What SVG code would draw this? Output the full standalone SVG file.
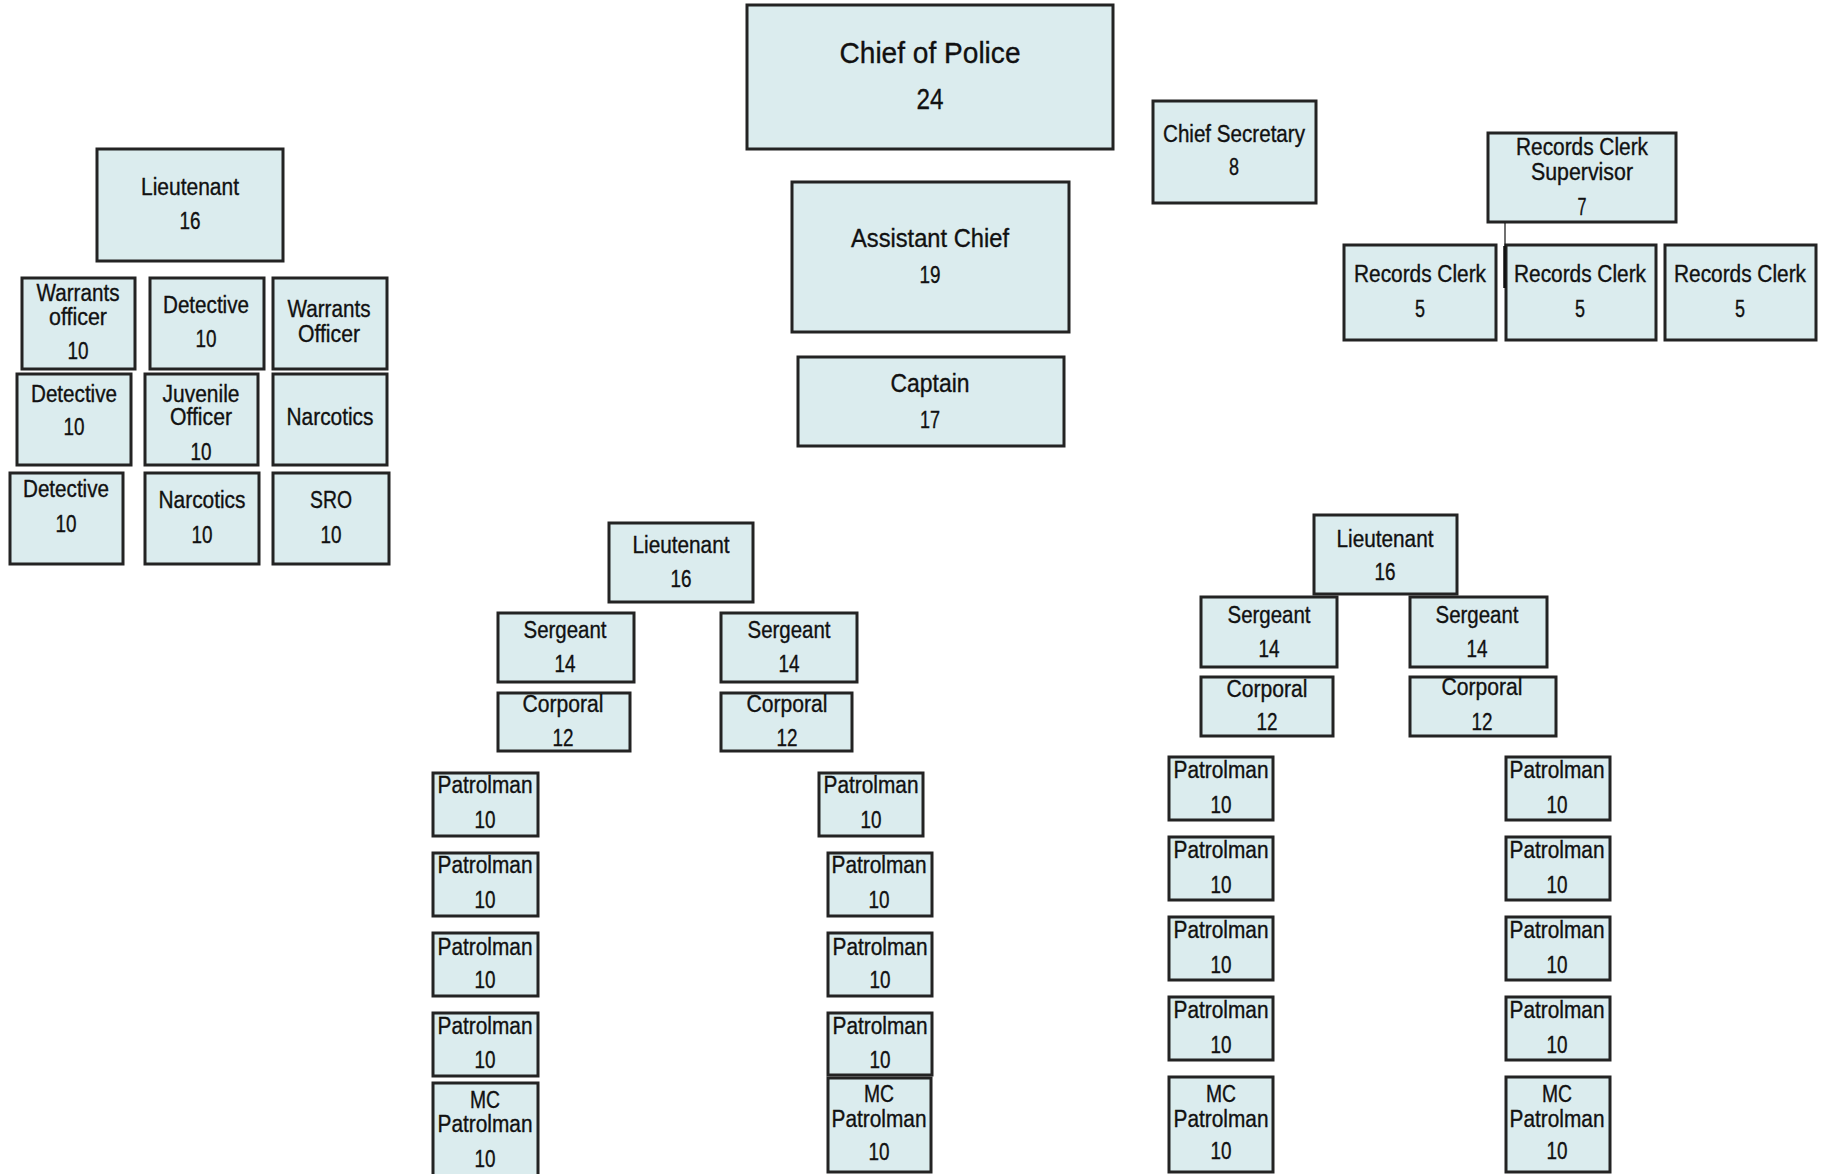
<svg xmlns="http://www.w3.org/2000/svg" width="1824" height="1174" viewBox="0 0 1824 1174">
  <style>
    .box { fill: #dbecee; stroke: #232323; stroke-width: 3; }
    text { font-family: "Liberation Sans", Arial, sans-serif; fill: #111; stroke: #111; stroke-width: 0.35; text-anchor: middle; }
    .f22 { font-size: 23.5px; }
    .f23 { font-size: 23px; }
    .f25 { font-size: 25.5px; }
    .f30 { font-size: 30px; }
    .link { stroke: #111; fill: none; }
  </style>
  <rect width="1824" height="1174" fill="#ffffff"/>

  <!-- Command staff -->
  <g id="chief-of-police">
    <rect class="box" x="747" y="5" width="366" height="144"/>
    <text class="f30" x="930" y="63" textLength="181" lengthAdjust="spacingAndGlyphs">Chief of Police</text>
    <text class="f30" x="930" y="109" textLength="27" lengthAdjust="spacingAndGlyphs">24</text>
  </g>
  <g id="assistant-chief">
    <rect class="box" x="792" y="182" width="277" height="150"/>
    <text class="f25" x="930" y="247" textLength="158" lengthAdjust="spacingAndGlyphs">Assistant Chief</text>
    <text class="f23" x="930" y="283" textLength="21" lengthAdjust="spacingAndGlyphs">19</text>
  </g>
  <g id="captain">
    <rect class="box" x="798" y="357" width="266" height="89"/>
    <text class="f25" x="930" y="392" textLength="79" lengthAdjust="spacingAndGlyphs">Captain</text>
    <text class="f23" x="930" y="428" textLength="20" lengthAdjust="spacingAndGlyphs">17</text>
  </g>
  <g id="chief-secretary">
    <rect class="box" x="1153" y="101" width="163" height="102"/>
    <text class="f23" x="1234" y="142" textLength="142" lengthAdjust="spacingAndGlyphs">Chief Secretary</text>
    <text class="f23" x="1234" y="175" textLength="10" lengthAdjust="spacingAndGlyphs">8</text>
  </g>

  <!-- Records -->
  <g id="records-supervisor">
    <rect class="box" x="1488" y="133" width="188" height="89"/>
    <text class="f23" x="1582" y="155" textLength="132" lengthAdjust="spacingAndGlyphs">Records Clerk</text>
    <text class="f23" x="1582" y="180" textLength="102" lengthAdjust="spacingAndGlyphs">Supervisor</text>
    <text class="f23" x="1582" y="215" textLength="9" lengthAdjust="spacingAndGlyphs">7</text>
  </g>
  <g id="records-clerk-1">
    <rect class="box" x="1344" y="245" width="152" height="95"/>
    <text class="f23" x="1420" y="282" textLength="132" lengthAdjust="spacingAndGlyphs">Records Clerk</text>
    <text class="f23" x="1420" y="317" textLength="10" lengthAdjust="spacingAndGlyphs">5</text>
  </g>
  <g id="records-clerk-2">
    <rect class="box" x="1506" y="245" width="150" height="95"/>
    <text class="f23" x="1580" y="282" textLength="132" lengthAdjust="spacingAndGlyphs">Records Clerk</text>
    <text class="f23" x="1580" y="317" textLength="10" lengthAdjust="spacingAndGlyphs">5</text>
  </g>
  <g id="records-clerk-3">
    <rect class="box" x="1665" y="245" width="151" height="95"/>
    <text class="f23" x="1740" y="282" textLength="132" lengthAdjust="spacingAndGlyphs">Records Clerk</text>
    <text class="f23" x="1740" y="317" textLength="10" lengthAdjust="spacingAndGlyphs">5</text>
  </g>

  <!-- Investigations -->
  <g id="inv-lieutenant">
    <rect class="box" x="97" y="149" width="186" height="112"/>
    <text class="f22" x="190" y="195" textLength="98" lengthAdjust="spacingAndGlyphs">Lieutenant</text>
    <text class="f22" x="190" y="229" textLength="21" lengthAdjust="spacingAndGlyphs">16</text>
  </g>
  <g id="warrants-officer-1">
    <rect class="box" x="22" y="278" width="113" height="91"/>
    <text class="f22" x="78" y="301" textLength="83" lengthAdjust="spacingAndGlyphs">Warrants</text>
    <text class="f22" x="78" y="325" textLength="58" lengthAdjust="spacingAndGlyphs">officer</text>
    <text class="f22" x="78" y="359" textLength="21" lengthAdjust="spacingAndGlyphs">10</text>
  </g>
  <g id="detective-1">
    <rect class="box" x="150" y="278" width="114" height="91"/>
    <text class="f22" x="206" y="313" textLength="86" lengthAdjust="spacingAndGlyphs">Detective</text>
    <text class="f22" x="206" y="347" textLength="21" lengthAdjust="spacingAndGlyphs">10</text>
  </g>
  <g id="warrants-officer-2">
    <rect class="box" x="273" y="278" width="114" height="91"/>
    <text class="f22" x="329" y="317" textLength="83" lengthAdjust="spacingAndGlyphs">Warrants</text>
    <text class="f22" x="329" y="342" textLength="62" lengthAdjust="spacingAndGlyphs">Officer</text>
  </g>
  <g id="detective-2">
    <rect class="box" x="17" y="374" width="114" height="91"/>
    <text class="f22" x="74" y="402" textLength="86" lengthAdjust="spacingAndGlyphs">Detective</text>
    <text class="f22" x="74" y="435" textLength="21" lengthAdjust="spacingAndGlyphs">10</text>
  </g>
  <g id="juvenile-officer">
    <rect class="box" x="145" y="374" width="113" height="91"/>
    <text class="f22" x="201" y="402" textLength="77" lengthAdjust="spacingAndGlyphs">Juvenile</text>
    <text class="f22" x="201" y="425" textLength="62" lengthAdjust="spacingAndGlyphs">Officer</text>
    <text class="f22" x="201" y="460" textLength="21" lengthAdjust="spacingAndGlyphs">10</text>
  </g>
  <g id="narcotics-1">
    <rect class="box" x="273" y="374" width="114" height="91"/>
    <text class="f22" x="330" y="425" textLength="87" lengthAdjust="spacingAndGlyphs">Narcotics</text>
  </g>
  <g id="detective-3">
    <rect class="box" x="10" y="473" width="113" height="91"/>
    <text class="f22" x="66" y="497" textLength="86" lengthAdjust="spacingAndGlyphs">Detective</text>
    <text class="f22" x="66" y="532" textLength="21" lengthAdjust="spacingAndGlyphs">10</text>
  </g>
  <g id="narcotics-2">
    <rect class="box" x="145" y="473" width="114" height="91"/>
    <text class="f22" x="202" y="508" textLength="87" lengthAdjust="spacingAndGlyphs">Narcotics</text>
    <text class="f22" x="202" y="543" textLength="21" lengthAdjust="spacingAndGlyphs">10</text>
  </g>
  <g id="sro">
    <rect class="box" x="273" y="473" width="116" height="91"/>
    <text class="f22" x="331" y="508" textLength="42" lengthAdjust="spacingAndGlyphs">SRO</text>
    <text class="f22" x="331" y="543" textLength="21" lengthAdjust="spacingAndGlyphs">10</text>
  </g>

  <!-- Patrol shift A -->
  <g id="shift-a-lieutenant">
    <rect class="box" x="609" y="523" width="144" height="79"/>
    <text class="f22" x="681" y="553" textLength="97" lengthAdjust="spacingAndGlyphs">Lieutenant</text>
    <text class="f22" x="681" y="587" textLength="21" lengthAdjust="spacingAndGlyphs">16</text>
  </g>
  <g id="shift-a-sergeant-1">
    <rect class="box" x="498" y="613" width="136" height="69"/>
    <text class="f22" x="565" y="638" textLength="83" lengthAdjust="spacingAndGlyphs">Sergeant</text>
    <text class="f22" x="565" y="672" textLength="21" lengthAdjust="spacingAndGlyphs">14</text>
  </g>
  <g id="shift-a-sergeant-2">
    <rect class="box" x="721" y="613" width="136" height="69"/>
    <text class="f22" x="789" y="638" textLength="83" lengthAdjust="spacingAndGlyphs">Sergeant</text>
    <text class="f22" x="789" y="672" textLength="21" lengthAdjust="spacingAndGlyphs">14</text>
  </g>
  <g id="shift-a-corporal-1">
    <rect class="box" x="498" y="693" width="132" height="58"/>
    <text class="f22" x="563" y="712" textLength="81" lengthAdjust="spacingAndGlyphs">Corporal</text>
    <text class="f22" x="563" y="746" textLength="21" lengthAdjust="spacingAndGlyphs">12</text>
  </g>
  <g id="shift-a-corporal-2">
    <rect class="box" x="721" y="693" width="131" height="58"/>
    <text class="f22" x="787" y="712" textLength="81" lengthAdjust="spacingAndGlyphs">Corporal</text>
    <text class="f22" x="787" y="746" textLength="21" lengthAdjust="spacingAndGlyphs">12</text>
  </g>

  <g id="shift-a-patrolman-1">
    <rect class="box" x="433" y="773" width="105" height="63"/>
    <text class="f22" x="485" y="793" textLength="95" lengthAdjust="spacingAndGlyphs">Patrolman</text>
    <text class="f22" x="485" y="828" textLength="21" lengthAdjust="spacingAndGlyphs">10</text>
  </g>
  <g id="shift-a-patrolman-2">
    <rect class="box" x="433" y="853" width="105" height="63"/>
    <text class="f22" x="485" y="873" textLength="95" lengthAdjust="spacingAndGlyphs">Patrolman</text>
    <text class="f22" x="485" y="908" textLength="21" lengthAdjust="spacingAndGlyphs">10</text>
  </g>
  <g id="shift-a-patrolman-3">
    <rect class="box" x="433" y="933" width="105" height="63"/>
    <text class="f22" x="485" y="955" textLength="95" lengthAdjust="spacingAndGlyphs">Patrolman</text>
    <text class="f22" x="485" y="988" textLength="21" lengthAdjust="spacingAndGlyphs">10</text>
  </g>
  <g id="shift-a-patrolman-4">
    <rect class="box" x="433" y="1013" width="105" height="63"/>
    <text class="f22" x="485" y="1034" textLength="95" lengthAdjust="spacingAndGlyphs">Patrolman</text>
    <text class="f22" x="485" y="1068" textLength="21" lengthAdjust="spacingAndGlyphs">10</text>
  </g>
  <g id="shift-a-mc-patrolman-1">
    <rect class="box" x="433" y="1083" width="105" height="100"/>
    <text class="f22" x="485" y="1108" textLength="30" lengthAdjust="spacingAndGlyphs">MC</text>
    <text class="f22" x="485" y="1132" textLength="95" lengthAdjust="spacingAndGlyphs">Patrolman</text>
    <text class="f22" x="485" y="1167" textLength="21" lengthAdjust="spacingAndGlyphs">10</text>
  </g>

  <g id="shift-a-patrolman-5">
    <rect class="box" x="819" y="773" width="104" height="63"/>
    <text class="f22" x="871" y="793" textLength="95" lengthAdjust="spacingAndGlyphs">Patrolman</text>
    <text class="f22" x="871" y="828" textLength="21" lengthAdjust="spacingAndGlyphs">10</text>
  </g>
  <g id="shift-a-patrolman-6">
    <rect class="box" x="828" y="853" width="104" height="63"/>
    <text class="f22" x="879" y="873" textLength="95" lengthAdjust="spacingAndGlyphs">Patrolman</text>
    <text class="f22" x="879" y="908" textLength="21" lengthAdjust="spacingAndGlyphs">10</text>
  </g>
  <g id="shift-a-patrolman-7">
    <rect class="box" x="828" y="933" width="104" height="63"/>
    <text class="f22" x="880" y="955" textLength="95" lengthAdjust="spacingAndGlyphs">Patrolman</text>
    <text class="f22" x="880" y="988" textLength="21" lengthAdjust="spacingAndGlyphs">10</text>
  </g>
  <g id="shift-a-patrolman-8">
    <rect class="box" x="828" y="1013" width="104" height="62"/>
    <text class="f22" x="880" y="1034" textLength="95" lengthAdjust="spacingAndGlyphs">Patrolman</text>
    <text class="f22" x="880" y="1068" textLength="21" lengthAdjust="spacingAndGlyphs">10</text>
  </g>
  <g id="shift-a-mc-patrolman-2">
    <rect class="box" x="828" y="1078" width="103" height="94"/>
    <text class="f22" x="879" y="1102" textLength="30" lengthAdjust="spacingAndGlyphs">MC</text>
    <text class="f22" x="879" y="1127" textLength="95" lengthAdjust="spacingAndGlyphs">Patrolman</text>
    <text class="f22" x="879" y="1160" textLength="21" lengthAdjust="spacingAndGlyphs">10</text>
  </g>

  <!-- Patrol shift B -->
  <g id="shift-b-lieutenant">
    <rect class="box" x="1314" y="515" width="143" height="79"/>
    <text class="f22" x="1385" y="547" textLength="97" lengthAdjust="spacingAndGlyphs">Lieutenant</text>
    <text class="f22" x="1385" y="580" textLength="21" lengthAdjust="spacingAndGlyphs">16</text>
  </g>
  <g id="shift-b-sergeant-1">
    <rect class="box" x="1201" y="597" width="136" height="70"/>
    <text class="f22" x="1269" y="623" textLength="83" lengthAdjust="spacingAndGlyphs">Sergeant</text>
    <text class="f22" x="1269" y="657" textLength="21" lengthAdjust="spacingAndGlyphs">14</text>
  </g>
  <g id="shift-b-sergeant-2">
    <rect class="box" x="1410" y="597" width="137" height="70"/>
    <text class="f22" x="1477" y="623" textLength="83" lengthAdjust="spacingAndGlyphs">Sergeant</text>
    <text class="f22" x="1477" y="657" textLength="21" lengthAdjust="spacingAndGlyphs">14</text>
  </g>
  <g id="shift-b-corporal-1">
    <rect class="box" x="1201" y="677" width="132" height="59"/>
    <text class="f22" x="1267" y="697" textLength="81" lengthAdjust="spacingAndGlyphs">Corporal</text>
    <text class="f22" x="1267" y="730" textLength="21" lengthAdjust="spacingAndGlyphs">12</text>
  </g>
  <g id="shift-b-corporal-2">
    <rect class="box" x="1410" y="677" width="146" height="59"/>
    <text class="f22" x="1482" y="695" textLength="81" lengthAdjust="spacingAndGlyphs">Corporal</text>
    <text class="f22" x="1482" y="730" textLength="21" lengthAdjust="spacingAndGlyphs">12</text>
  </g>

  <g id="shift-b-patrolman-1">
    <rect class="box" x="1169" y="757" width="104" height="63"/>
    <text class="f22" x="1221" y="778" textLength="95" lengthAdjust="spacingAndGlyphs">Patrolman</text>
    <text class="f22" x="1221" y="813" textLength="21" lengthAdjust="spacingAndGlyphs">10</text>
  </g>
  <g id="shift-b-patrolman-2">
    <rect class="box" x="1169" y="837" width="104" height="63"/>
    <text class="f22" x="1221" y="858" textLength="95" lengthAdjust="spacingAndGlyphs">Patrolman</text>
    <text class="f22" x="1221" y="893" textLength="21" lengthAdjust="spacingAndGlyphs">10</text>
  </g>
  <g id="shift-b-patrolman-3">
    <rect class="box" x="1169" y="917" width="104" height="63"/>
    <text class="f22" x="1221" y="938" textLength="95" lengthAdjust="spacingAndGlyphs">Patrolman</text>
    <text class="f22" x="1221" y="973" textLength="21" lengthAdjust="spacingAndGlyphs">10</text>
  </g>
  <g id="shift-b-patrolman-4">
    <rect class="box" x="1169" y="997" width="104" height="63"/>
    <text class="f22" x="1221" y="1018" textLength="95" lengthAdjust="spacingAndGlyphs">Patrolman</text>
    <text class="f22" x="1221" y="1053" textLength="21" lengthAdjust="spacingAndGlyphs">10</text>
  </g>
  <g id="shift-b-mc-patrolman-1">
    <rect class="box" x="1169" y="1077" width="104" height="95"/>
    <text class="f22" x="1221" y="1102" textLength="30" lengthAdjust="spacingAndGlyphs">MC</text>
    <text class="f22" x="1221" y="1127" textLength="95" lengthAdjust="spacingAndGlyphs">Patrolman</text>
    <text class="f22" x="1221" y="1159" textLength="21" lengthAdjust="spacingAndGlyphs">10</text>
  </g>

  <g id="shift-b-patrolman-5">
    <rect class="box" x="1506" y="757" width="104" height="63"/>
    <text class="f22" x="1557" y="778" textLength="95" lengthAdjust="spacingAndGlyphs">Patrolman</text>
    <text class="f22" x="1557" y="813" textLength="21" lengthAdjust="spacingAndGlyphs">10</text>
  </g>
  <g id="shift-b-patrolman-6">
    <rect class="box" x="1506" y="837" width="104" height="63"/>
    <text class="f22" x="1557" y="858" textLength="95" lengthAdjust="spacingAndGlyphs">Patrolman</text>
    <text class="f22" x="1557" y="893" textLength="21" lengthAdjust="spacingAndGlyphs">10</text>
  </g>
  <g id="shift-b-patrolman-7">
    <rect class="box" x="1506" y="917" width="104" height="63"/>
    <text class="f22" x="1557" y="938" textLength="95" lengthAdjust="spacingAndGlyphs">Patrolman</text>
    <text class="f22" x="1557" y="973" textLength="21" lengthAdjust="spacingAndGlyphs">10</text>
  </g>
  <g id="shift-b-patrolman-8">
    <rect class="box" x="1506" y="997" width="104" height="63"/>
    <text class="f22" x="1557" y="1018" textLength="95" lengthAdjust="spacingAndGlyphs">Patrolman</text>
    <text class="f22" x="1557" y="1053" textLength="21" lengthAdjust="spacingAndGlyphs">10</text>
  </g>
  <g id="shift-b-mc-patrolman-2">
    <rect class="box" x="1506" y="1077" width="104" height="95"/>
    <text class="f22" x="1557" y="1102" textLength="30" lengthAdjust="spacingAndGlyphs">MC</text>
    <text class="f22" x="1557" y="1127" textLength="95" lengthAdjust="spacingAndGlyphs">Patrolman</text>
    <text class="f22" x="1557" y="1159" textLength="21" lengthAdjust="spacingAndGlyphs">10</text>
  </g>

  <!-- Connectors -->
  <g id="connectors">
    <line class="link" x1="1505" y1="223" x2="1505" y2="246" stroke-width="1.2"/>
    <line class="link" x1="1504.5" y1="246" x2="1504.5" y2="288" stroke-width="2.5"/>
  </g>
</svg>
